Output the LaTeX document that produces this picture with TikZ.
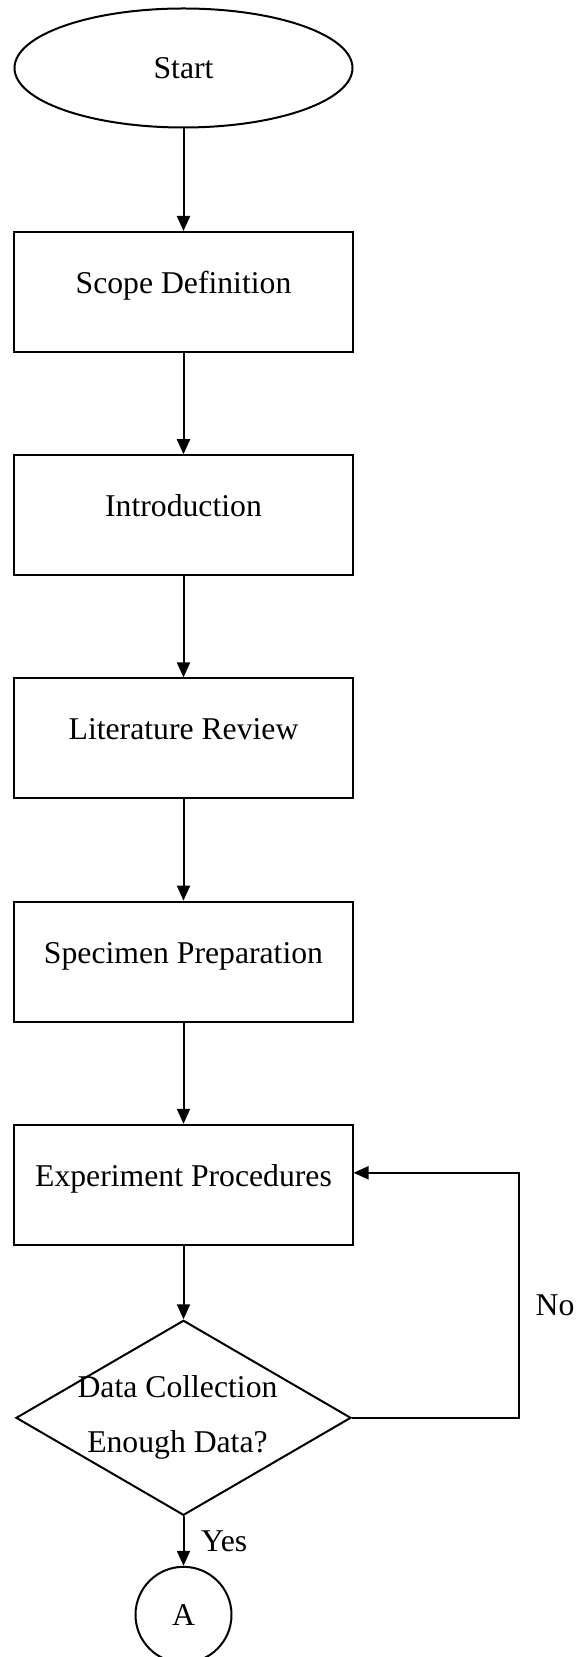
\documentclass[tikz,border=0pt]{standalone}
\usepackage{fontspec}
\setmainfont{Liberation Serif}
\usepackage{tikz}
\usetikzlibrary{shapes.geometric,arrows.meta,positioning}

\begin{document}
\begin{tikzpicture}[node distance=111.6pt,on grid,auto,
    >={Triangle[length=7.5pt,width=6.5pt]},line width=1pt,
    font=\fontsize{15.85}{27.5}\selectfont,
    term/.style={ellipse,draw,minimum width=169pt,minimum height=59.5pt,inner sep=0pt},
    proc/.style={rectangle,draw,minimum width=169pt,minimum height=60pt,
      text height=11pt,text depth=9.5pt},
    decide/.style={diamond,draw,minimum width=167.5pt,minimum height=97.5pt,inner sep=0pt},
    conn/.style={circle,draw,minimum size=48pt,inner sep=0pt}]
    \useasboundingbox (-91.75pt,34pt) rectangle (199.25pt,-794.5pt);
    \node[term] (start) {Start};
    \node[proc] (scope) [below = 112pt of start] {Scope Definition};
    \node[proc] (intro) [below = of scope] {Introduction};
    \node[proc] (review) [below = of intro] {Literature Review};
    \node[proc] (spec) [below = of review] {Specimen Preparation};
    \node[proc] (exp) [below = of spec] {Experiment Procedures};
    \node[decide] (dec) [below = 116.5pt of exp,
      label={[align=center,xshift=-3pt]center:Data Collection\\Enough Data?}] {};
    \node[conn] (conA) [below = 98.5pt of dec] {A};
    \coordinate[right = 167.75pt of dec] (turn);
    \path[->]
    (start) edge (scope)
    (scope) edge (intro)
    (intro) edge (review)
    (review) edge (spec)
    (spec) edge (exp)
    (exp) edge (dec)
    (dec) edge node [right=5pt] {Yes} (conA)
    ;
    \draw[->] (dec.east) -- (turn) |- node [pos=0.23,right=4.5pt] {No} ([yshift=6pt]exp.east);
  \end{tikzpicture}
\end{document}
